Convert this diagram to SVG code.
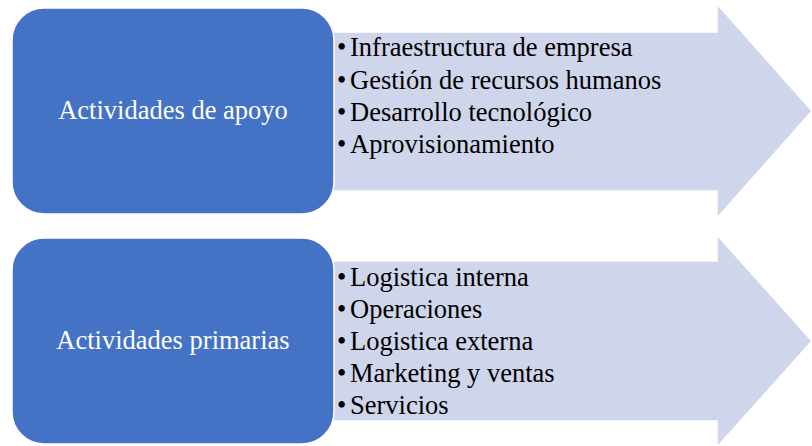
<svg xmlns="http://www.w3.org/2000/svg" width="812" height="446" viewBox="0 0 812 446">
<style>
.box{fill:#4472C4;stroke:#ffffff;stroke-width:1.5}
.arrow{fill:#CFD5EA;stroke:#ffffff;stroke-width:1.5}
.lbl{font-family:"Liberation Serif","Times New Roman",serif;font-size:26.5px;fill:#ffffff;text-anchor:middle}
.item{font-family:"Liberation Serif","Times New Roman",serif;font-size:26.5px;fill:#000000}
.bul{font-family:"Liberation Serif","Times New Roman",serif;font-size:26.5px;fill:#000000}
</style>
<rect width="812" height="446" fill="#ffffff"/>
<g id="arrow-apoyo">
<polygon class="arrow" points="330,32 717,32 717,4 812,111 717,218 717,191 330,191"/>
<text class="bul" x="337" y="56">•</text>
<text class="item" x="350" y="56">Infraestructura de empresa</text>
<text class="bul" x="337" y="88.5">•</text>
<text class="item" x="350" y="88.5">Gestión de recursos humanos</text>
<text class="bul" x="337" y="121">•</text>
<text class="item" x="350" y="121">Desarrollo tecnológico</text>
<text class="bul" x="337" y="153">•</text>
<text class="item" x="350" y="153">Aprovisionamiento</text>
</g>
<g id="box-apoyo">
<rect class="box" x="12" y="8" width="322" height="206" rx="32" ry="32"/>
<text class="lbl" x="173" y="119">Actividades de apoyo</text>
</g>
<g id="arrow-primarias">
<polygon class="arrow" points="330,261 717,261 717,235 812,341 717,447 717,421 330,421"/>
<text class="bul" x="337" y="286">•</text>
<text class="item" x="350" y="286">Logistica interna</text>
<text class="bul" x="337" y="318">•</text>
<text class="item" x="350" y="318">Operaciones</text>
<text class="bul" x="337" y="350">•</text>
<text class="item" x="350" y="350">Logistica externa</text>
<text class="bul" x="337" y="382">•</text>
<text class="item" x="350" y="382">Marketing y ventas</text>
<text class="bul" x="337" y="414">•</text>
<text class="item" x="350" y="414">Servicios</text>
</g>
<g id="box-primarias">
<rect class="box" x="12" y="238" width="322" height="206" rx="32" ry="32"/>
<text class="lbl" x="173" y="349">Actividades primarias</text>
</g>
<g id="connectors"></g>
</svg>
